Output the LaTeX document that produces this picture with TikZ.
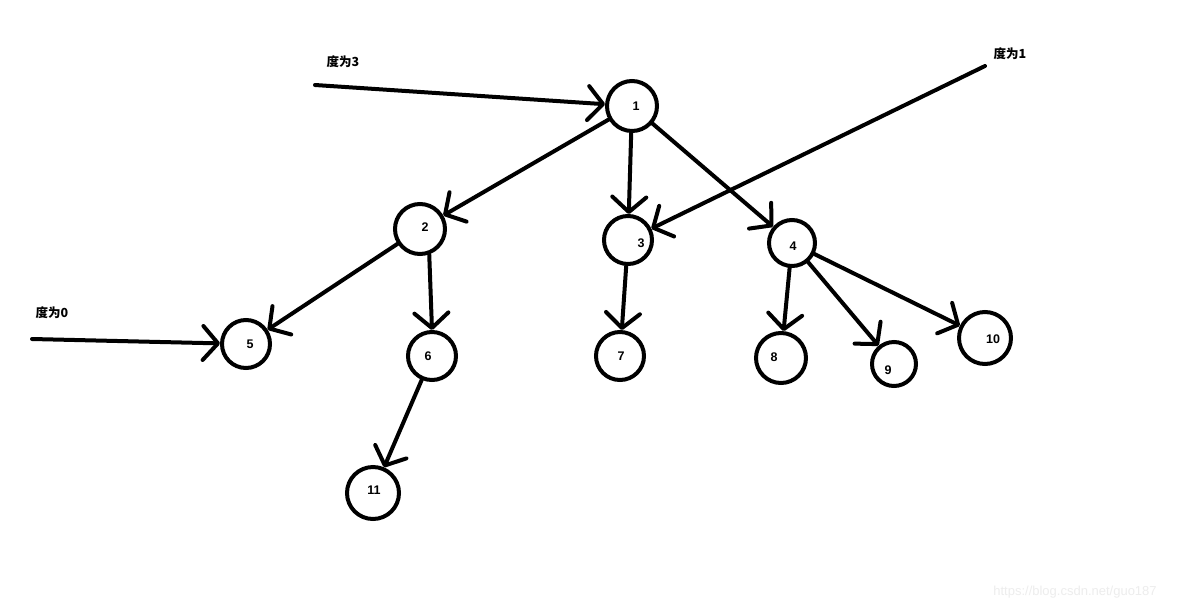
\documentclass[tikz,border=0pt]{standalone}
\usepackage{fontspec}
\setmainfont{Liberation Sans}
\newfontfamily\cjkfont{Noto Sans CJK SC}
\usetikzlibrary{arrows.meta}
\begin{document}
\begin{tikzpicture}[x=1pt,y=-1pt,
  vtx/.style={circle,draw,line width=4pt,inner sep=0pt,minimum size=#1},
  vtx/.default=48pt,
  lab/.style={font=\fontsize{12.5}{14}\selectfont\bfseries},
  note/.style={font=\cjkfont\fontsize{12.5}{14}\selectfont\bfseries},
  arr/.style={line width=4pt,line cap=round,
    -{Straight Barb[length=15pt,width=34pt,line width=4pt,round]}},
  plain/.style={line width=4pt,line cap=round}]
\useasboundingbox[fill=white] (0,0) rectangle (1178,611);
% vertices
\node[vtx=50pt,label={[lab,xshift=4pt,yshift=0pt]center:1}] (n1) at (632,106) {};
\node[vtx=50pt,label={[lab,xshift=5pt,yshift=2pt]center:2}] (n2) at (420,229) {};
\node[vtx=48pt,label={[lab,xshift=13pt,yshift=-3pt]center:3}] (n3) at (628,240) {};
\node[vtx=46pt,label={[lab,xshift=1pt,yshift=-3pt]center:4}] (n4) at (792,243) {};
\node[vtx=48pt,label={[lab,xshift=4pt,yshift=0pt]center:5}] (n5) at (246,344) {};
\node[vtx=48pt,label={[lab,xshift=-4pt,yshift=0pt]center:6}] (n6) at (432,356) {};
\node[vtx=48pt,label={[lab,xshift=1pt,yshift=0pt]center:7}] (n7) at (620,356) {};
\node[vtx=50pt,label={[lab,xshift=-7pt,yshift=1pt]center:8}] (n8) at (781,358) {};
\node[vtx=44pt,label={[lab,xshift=-6pt,yshift=-6pt]center:9}] (n9) at (894,364) {};
\node[vtx=52pt,label={[lab,xshift=8pt,yshift=-1pt]center:10}] (n10) at (985,338) {};
\node[vtx=52pt,label={[lab,xshift=1pt,yshift=3pt]center:11}] (n11) at (373,493) {};
% notes
\node[note] (d3) at (343,62) {度为3};
\node[note] (d1) at (1010,54) {度为1};
\node[note] (d0) at (52,313) {度为0};
\coordinate (s3) at (315,85);
\coordinate (s1) at (985,66);
\coordinate (s0) at (32,339);
% edges
\draw[arr] (n1) -- (n2);
\draw[arr] (n1) -- (n3);
\draw[arr] (n1) -- (n4);
\draw[arr] (n2) -- (n5);
\draw[arr] (n2.-70) -- (n6.north);
\draw[arr] (n3) -- (n7);
\draw[arr] (n4) -- (n8);
\draw[arr] (n4) -- (n9);
\draw[arr] (n4) -- (n10);
\draw[arr] (n6) -- (n11);
\draw[arr] (s3) -- (n1);
\draw[arr] (s1) -- (n3);
\draw[arr] (s0) -- (n5);
% watermark
\node[font=\fontsize{13}{15}\selectfont,text=black!7] (wm) at (1075,592) {https://blog.csdn.net/guo187};
\end{tikzpicture}
\end{document}
